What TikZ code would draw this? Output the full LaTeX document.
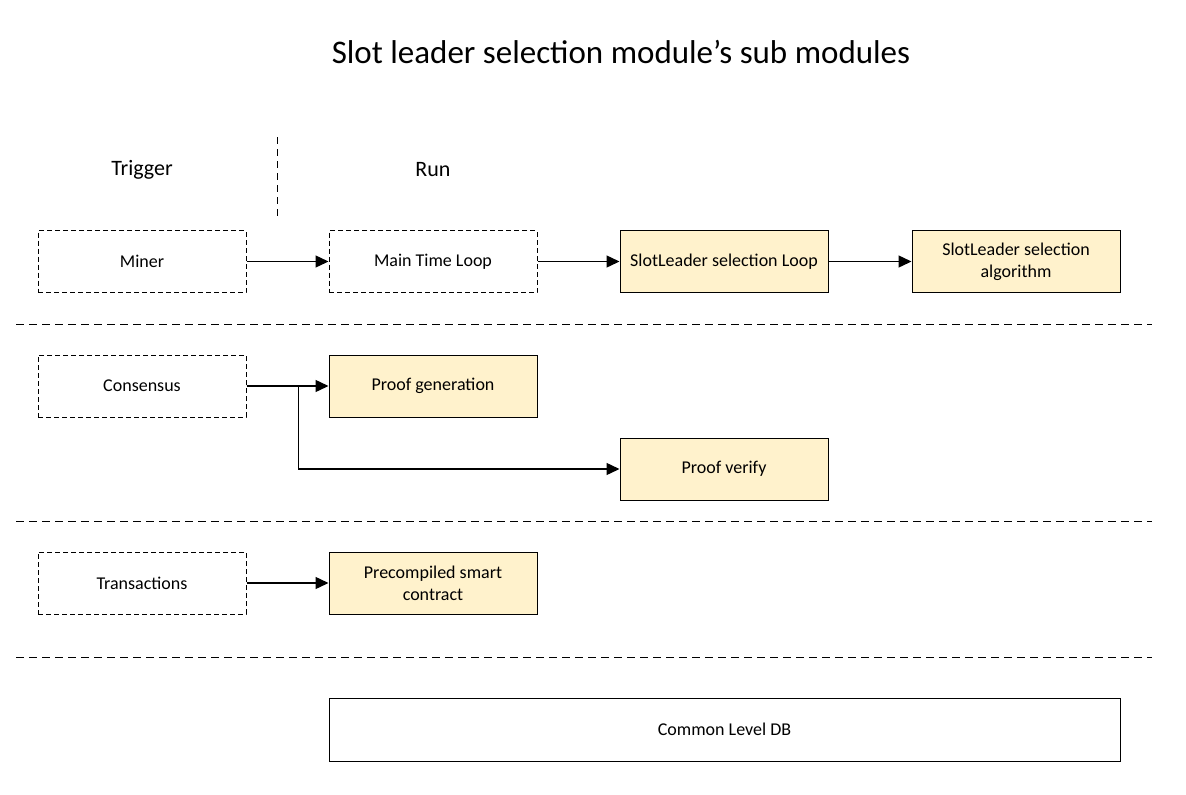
\documentclass[tikz,border=0pt]{standalone}
\usepackage{fontspec}
\setmainfont{Carlito}
\usetikzlibrary{arrows.meta}
\definecolor{boxfill}{HTML}{FFF2CC}
\begin{document}
\begin{tikzpicture}[x=1pt, y=-1pt,
  module/.style={draw, line width=1pt, minimum width=208pt, minimum height=62pt,
    align=center, font=\fontsize{18}{22}\selectfont, inner sep=2pt},
  trigger/.style={module, dashed, dash pattern=on 5pt off 3pt},
  runbox/.style={module, fill=boxfill},
  flow/.style={line width=1.4pt, -{Triangle[length=13pt, width=12pt]}},
  sep/.style={line width=1pt, dash pattern=on 8pt off 5pt}]
\useasboundingbox (0,0) rectangle (1186,795);
\node [font=\fontsize{33}{40}\selectfont] (title) at (621,52) {Slot leader selection module’s sub modules};
\node [font=\fontsize{22}{26}\selectfont] (trig) at (142,170) {Trigger};
\node [font=\fontsize{22}{26}\selectfont] (run) at (433,170) {Run};
\draw [dashed, dash pattern=on 7pt off 5pt, line width=1pt] (277,137) -- (277,217);

%%%%%%%%%%%%%%%%%%%%%%%%%%%%%%%%%%%%%%%%

\node [trigger] (miner) at (142,261.5) {Miner};
\node [trigger] (mainloop) at (433,261.5) {Main Time Loop};
\node [runbox] (selloop) at (724,261.5) {SlotLeader selection Loop};
\node [runbox] (selalgo) at (1016,261.5) {SlotLeader selection\\algorithm};
\draw [flow] (miner) -- (mainloop);
\draw [flow] (mainloop) -- (selloop);
\draw [flow] (selloop) -- (selalgo);
\draw [sep] (16,324) -- (1152,324);

\node [trigger] (consensus) at (142,386) {Consensus};
\node [runbox] (proofgen) at (433,386) {Proof generation};
\node [runbox] (proofver) at (724,469) {Proof verify};
\draw [flow] (consensus) -- (proofgen);
\draw [flow] (consensus.east) -- ++(52,0) |- (proofver);
\draw [sep] (16,521) -- (1152,521);

\node [trigger] (txs) at (142,583) {Transactions};
\node [runbox] (precomp) at (433,583) {Precompiled smart\\contract};
\draw [flow] (txs) -- (precomp);
\draw [sep] (16,657) -- (1152,657);

\node [module, minimum width=791pt, minimum height=63pt] (leveldb) at (724.5,729.5) {Common Level DB};
\end{tikzpicture}
\end{document}
